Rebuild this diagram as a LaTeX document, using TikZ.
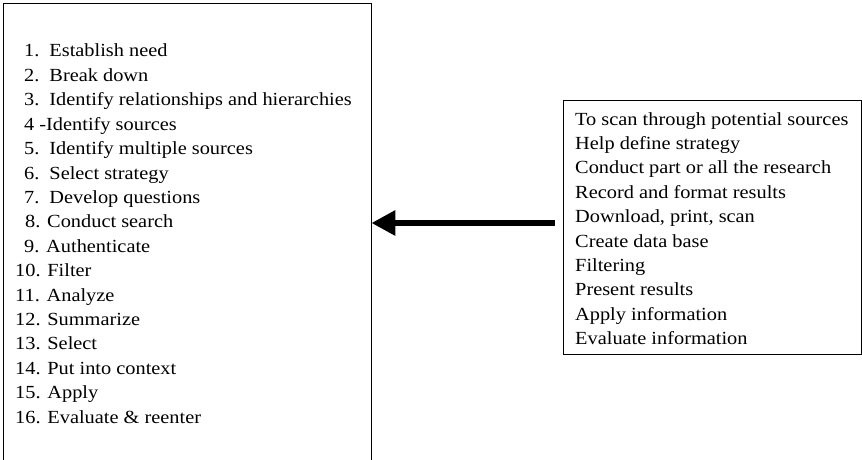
\documentclass[tikz,border=0pt]{standalone}
\usepackage{fontspec}
\setmainfont{Liberation Serif}[FakeStretch=1.1]
\usetikzlibrary{arrows.meta}

\begin{document}
\begin{tikzpicture}[x=1pt, y=-1pt,
  box/.style={draw, line width=0.8pt, inner sep=0pt},
  item/.style={anchor=base west, inner sep=0pt, font=\fontsize{18.5}{22}\selectfont},
  bigarr/.style={-{Triangle[length=24pt, width=24pt]}, line width=6.5pt}
]
  \clip (0,0) rectangle (862,460);
  % left box runs off the bottom of the page
  \node[box, minimum width=368pt, minimum height=490pt] (steps) at (187,248) {};
  \node[box, minimum width=298pt, minimum height=254pt] (tools) at (712,227) {};

  \foreach \x/\t [count=\i] in {
      24/{1.\hspace{10pt}Establish need},
      24/{2.\hspace{10pt}Break down},
      24/{3.\hspace{10pt}Identify relationships and hierarchies},
      24/{4 -Identify sources},
      24/{5.\hspace{10pt}Identify multiple sources},
      24/{6.\hspace{10pt}Select strategy},
      24/{7.\hspace{10pt}Develop questions},
      25/{8. Conduct search},
      24/{9. Authenticate},
      15/{10. Filter},
      15/{11. Analyze},
      15/{12. Summarize},
      15/{13. Select},
      15/{14. Put into context},
      15/{15. Apply},
      15/{16. Evaluate \& reenter}}
    \node[item] (step\i) at (\x, {57+(\i-1)*24.4}) {\t};

  \foreach \t [count=\i] in {To scan through potential sources, Help define strategy,
      Conduct part or all the research, Record and format results, {Download, print, scan},
      Create data base, Filtering, Present results, Apply information, Evaluate information}
    \node[item] (tool\i) at (575, {125+(\i-1)*24.4}) {\t};

  \coordinate (tail) at ([xshift=-8pt, yshift=4pt]tools.west);
  \draw[bigarr] (tail) -- (tail -| steps.east);
\end{tikzpicture}
\end{document}
